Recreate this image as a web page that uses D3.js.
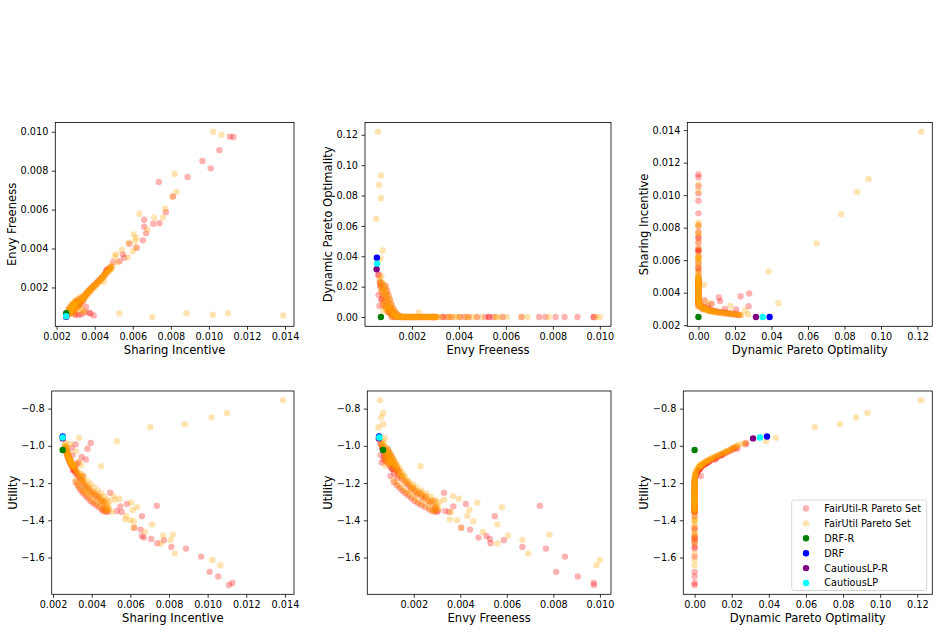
<!DOCTYPE html>
<html>
<head>
<meta charset="utf-8">
<script src="https://cdn.jsdelivr.net/npm/d3@7"></script>
<style>
    body { margin: 0; background: #fff; }
    svg { display: block; font-family: 'DejaVu Sans', sans-serif; }
</style>
</head>
<body>
<svg id="chart" width="939" height="632"></svg>
<script>
// every row: [sharing incentive, envy freeness, dynamic pareto optimality, utility]
const fairUtilR = [
    [0.00262, 0.00064, 0.0225, -1.008], [0.00266, 0.00074, 0.0215, -1.014], [0.00264, 0.00088, 0.0205, -1.019],
    [0.00270, 0.00068, 0.0195, -1.024], [0.00268, 0.00080, 0.0185, -1.029], [0.00274, 0.00094, 0.0175, -1.034],
    [0.00270, 0.00072, 0.0165, -1.039], [0.00276, 0.00086, 0.0155, -1.044], [0.00273, 0.00100, 0.0145, -1.049],
    [0.00280, 0.00078, 0.0135, -1.054], [0.00277, 0.00092, 0.0125, -1.059], [0.00283, 0.00106, 0.0115, -1.064],
    [0.00280, 0.00084, 0.0105, -1.069], [0.00287, 0.00098, 0.0095, -1.074], [0.00284, 0.00112, 0.0085, -1.079],
    [0.00291, 0.00090, 0.0075, -1.085], [0.00288, 0.00106, 0.0066, -1.091], [0.00296, 0.00120, 0.0057, -1.097],
    [0.00293, 0.00098, 0.0049, -1.103], [0.00301, 0.00114, 0.0041, -1.110], [0.00306, 0.00128, 0.0034, -1.117],
    [0.00304, 0.00106, 0.0027, -1.124], [0.00312, 0.00122, 0.0021, -1.131], [0.00318, 0.00138, 0.0016, -1.139],
    [0.00316, 0.00116, 0.0012, -1.147], [0.00326, 0.00132, 0.0008, -1.155], [0.00332, 0.00148, 0.0005, -1.163],
    [0.00338, 0.00128, 0.0003, -1.172], [0.00346, 0.00150, 0.0001, -1.181], [0.00352, 0.00165, 0, -1.192],
    [0.00360, 0.00172, 0, -1.205], [0.00366, 0.00180, 0, -1.215], [0.00374, 0.00188, 0, -1.232],
    [0.00384, 0.00198, 0, -1.228], [0.00392, 0.00206, 0, -1.245], [0.00400, 0.00214, 0, -1.260],
    [0.00412, 0.00225, 0, -1.252], [0.00420, 0.00234, 0, -1.268], [0.00430, 0.00242, 0, -1.282],
    [0.00438, 0.00250, 0, -1.272], [0.00448, 0.00262, 0, -1.295], [0.00456, 0.00272, 0, -1.305],
    [0.00466, 0.00285, 0, -1.298], [0.00474, 0.00294, 0, -1.330], [0.00484, 0.00304, 0, -1.350],
    [0.00470, 0.00292, 0, -1.345], [0.00462, 0.00290, 0, -1.335], [0.00478, 0.00298, 0, -1.355],
    [0.00318, 0.00115, 0, -1.195], [0.00328, 0.00128, 0, -1.212], [0.00336, 0.00140, 0, -1.228],
    [0.00346, 0.00152, 0, -1.242], [0.00356, 0.00164, 0, -1.255], [0.00368, 0.00176, 0, -1.268],
    [0.00380, 0.00190, 0, -1.282], [0.00394, 0.00203, 0, -1.296], [0.00408, 0.00218, 0, -1.308],
    [0.00422, 0.00232, 0, -1.318], [0.00436, 0.00248, 0, -1.330], [0.00452, 0.00266, 0, -1.342],
    [0.00460, 0.00282, 0, -1.352], [0.00288, 0.00078, 0.0080, -1.082], [0.00296, 0.00088, 0.0062, -1.094],
    [0.00308, 0.00100, 0.0036, -1.114], [0.00314, 0.00110, 0.0025, -1.126], [0.00302, 0.00130, 0.0020, -1.133],
    [0.00395, 0.00056, 0.0278, -0.985], [0.00378, 0.00066, 0.0231, -1.016], [0.00370, 0.00070, 0.0112, -1.073],
    [0.00348, 0.00072, 0.0119, -1.060], [0.00317, 0.00060, 0.0275, -0.992], [0.00331, 0.00062, 0.0073, -1.090],
    [0.00354, 0.00100, 0.0033, -1.162], [0.00296, 0.00065, 0.0207, -1.012], [0.00300, 0.00058, 0.0145, -1.050],
    [0.00322, 0.00110, 0.0052, -1.100],
    [0.01110, 0.00975, 0, -1.748], [0.01128, 0.00973, 0, -1.737], [0.01055, 0.00905, 0, -1.702],
    [0.01010, 0.00812, 0, -1.677], [0.00966, 0.00850, 0, -1.595], [0.00888, 0.00768, 0, -1.552],
    [0.00737, 0.00742, 0, -1.322], [0.00812, 0.00667, 0, -1.543], [0.00774, 0.00587, 0, -1.507],
    [0.00660, 0.00548, 0, -1.378], [0.00708, 0.00527, 0, -1.500], [0.00740, 0.00530, 0, -1.523],
    [0.00670, 0.00478, 0, -1.493], [0.00660, 0.00512, 0, -1.484], [0.00653, 0.00442, 0, -1.450],
    [0.00582, 0.00424, 0, -1.312], [0.00548, 0.00370, 0, -1.325], [0.00555, 0.00352, 0, -1.355],
    [0.00530, 0.00335, 0, -1.350], [0.00620, 0.00404, 0, -1.440], [0.00496, 0.00330, 0, -1.252]
];

const fairUtil = [
    [0.00262, 0.00062, 0.0235, -0.995], [0.00265, 0.00070, 0.0228, -1.000], [0.00262, 0.00078, 0.0220, -1.005],
    [0.00268, 0.00066, 0.0212, -1.010], [0.00264, 0.00085, 0.0205, -1.013], [0.00270, 0.00072, 0.0196, -1.018],
    [0.00266, 0.00090, 0.0188, -1.022], [0.00272, 0.00068, 0.0180, -1.026], [0.00268, 0.00080, 0.0172, -1.030],
    [0.00274, 0.00095, 0.0165, -1.033], [0.00270, 0.00074, 0.0158, -1.036], [0.00276, 0.00088, 0.0150, -1.040],
    [0.00272, 0.00100, 0.0142, -1.043], [0.00278, 0.00078, 0.0135, -1.047], [0.00274, 0.00092, 0.0127, -1.050],
    [0.00280, 0.00105, 0.0120, -1.054], [0.00276, 0.00082, 0.0112, -1.057], [0.00282, 0.00098, 0.0105, -1.061],
    [0.00278, 0.00110, 0.0098, -1.064], [0.00285, 0.00088, 0.0090, -1.068], [0.00281, 0.00104, 0.0083, -1.072],
    [0.00288, 0.00115, 0.0076, -1.076], [0.00284, 0.00094, 0.0069, -1.080], [0.00292, 0.00110, 0.0062, -1.084],
    [0.00288, 0.00122, 0.0055, -1.088], [0.00296, 0.00100, 0.0048, -1.093], [0.00300, 0.00118, 0.0041, -1.098],
    [0.00298, 0.00130, 0.0035, -1.103], [0.00305, 0.00108, 0.0029, -1.108], [0.00310, 0.00125, 0.0023, -1.114],
    [0.00308, 0.00140, 0.0018, -1.120], [0.00316, 0.00118, 0.0014, -1.126], [0.00322, 0.00135, 0.0010, -1.133],
    [0.00320, 0.00150, 0.0007, -1.140], [0.00330, 0.00128, 0.0005, -1.146], [0.00336, 0.00145, 0.0003, -1.154],
    [0.00342, 0.00160, 0.0002, -1.162], [0.00340, 0.00140, 0.0001, -1.170], [0.00350, 0.00155, 0, -1.175],
    [0.00355, 0.00168, 0, -1.185], [0.00348, 0.00158, 0, -1.200], [0.00362, 0.00175, 0, -1.195],
    [0.00368, 0.00182, 0, -1.210], [0.00375, 0.00190, 0, -1.225], [0.00370, 0.00186, 0, -1.240],
    [0.00382, 0.00196, 0, -1.220], [0.00390, 0.00204, 0, -1.235], [0.00395, 0.00210, 0, -1.255],
    [0.00402, 0.00216, 0, -1.245], [0.00410, 0.00222, 0, -1.262], [0.00418, 0.00230, 0, -1.255],
    [0.00425, 0.00238, 0, -1.275], [0.00432, 0.00245, 0, -1.268], [0.00440, 0.00252, 0, -1.290],
    [0.00446, 0.00260, 0, -1.280], [0.00452, 0.00268, 0, -1.300], [0.00458, 0.00275, 0, -1.292],
    [0.00464, 0.00282, 0, -1.315], [0.00470, 0.00290, 0, -1.305], [0.00476, 0.00296, 0, -1.325],
    [0.00482, 0.00302, 0, -1.318], [0.00486, 0.00308, 0, -1.340], [0.00490, 0.00298, 0, -1.335],
    [0.00480, 0.00286, 0, -1.345],
    [0.00315, 0.00112, 0, -1.185], [0.00325, 0.00125, 0, -1.200], [0.00332, 0.00135, 0, -1.215],
    [0.00340, 0.00148, 0, -1.228], [0.00352, 0.00160, 0, -1.240], [0.00360, 0.00170, 0, -1.250],
    [0.00372, 0.00182, 0, -1.262], [0.00385, 0.00195, 0, -1.275], [0.00398, 0.00208, 0, -1.290],
    [0.00410, 0.00220, 0, -1.300], [0.00425, 0.00235, 0, -1.310], [0.00438, 0.00250, 0, -1.320],
    [0.00450, 0.00264, 0, -1.332], [0.00462, 0.00276, 0, -1.345], [0.00472, 0.00288, 0, -1.352],
    [0.00345, 0.00142, 0.0006, -1.150], [0.00360, 0.00158, 0.0003, -1.165], [0.00378, 0.00176, 0.0001, -1.190],
    [0.00395, 0.00195, 0, -1.205], [0.00412, 0.00212, 0, -1.222], [0.00430, 0.00232, 0, -1.240],
    [0.00448, 0.00252, 0, -1.255], [0.00465, 0.00272, 0, -1.272], [0.00480, 0.00292, 0, -1.290],
    [0.00492, 0.00310, 0, -1.300],
    [0.00285, 0.00075, 0.0088, -1.070], [0.00292, 0.00082, 0.0070, -1.078], [0.00298, 0.00090, 0.0052, -1.090],
    [0.00305, 0.00096, 0.0040, -1.098], [0.00312, 0.00104, 0.0030, -1.106], [0.00300, 0.00125, 0.0024, -1.112],
    [0.00294, 0.00118, 0.0032, -1.104], [0.00286, 0.00108, 0.0058, -1.086],
    [0.00290, 0.00064, 0.0255, -0.990], [0.00266, 0.00070, 0.0272, -0.985], [0.00335, 0.00095, 0.0068, -1.085],
    [0.00318, 0.00082, 0.0175, -1.030], [0.00345, 0.00078, 0.0040, -1.105], [0.00449, 0.00229, 0.0030, -1.110],
    [0.01390, 0.00056, 0.1220, -0.755], [0.01100, 0.00068, 0.0932, -0.823], [0.01020, 0.00060, 0.0870, -0.847],
    [0.00882, 0.00068, 0.0782, -0.884], [0.00703, 0.00048, 0.0648, -0.900], [0.00530, 0.00066, 0.0385, -0.975],
    [0.00335, 0.00076, 0.0438, -0.957],
    [0.01024, 0.01000, 0, -1.613], [0.01066, 0.00985, 0, -1.641], [0.00820, 0.00783, 0, -1.477],
    [0.00830, 0.00692, 0, -1.579], [0.00808, 0.00667, 0, -1.505], [0.00770, 0.00605, 0, -1.482],
    [0.00635, 0.00579, 0, -1.330], [0.00713, 0.00559, 0, -1.422], [0.00759, 0.00559, 0, -1.525],
    [0.00677, 0.00497, 0, -1.462], [0.00605, 0.00473, 0, -1.305], [0.00618, 0.00456, 0, -1.405],
    [0.00612, 0.00439, 0, -1.345], [0.00618, 0.00404, 0, -1.440], [0.00578, 0.00430, 0, -1.377],
    [0.00600, 0.00386, 0, -1.400], [0.00573, 0.00355, 0, -1.395], [0.00543, 0.00394, 0, -1.284],
    [0.00513, 0.00369, 0, -1.270], [0.00504, 0.00360, 0, -1.355], [0.00520, 0.00330, 0, -1.290]
];

const drfR = [[0.00250, 0.00068, 0.0000, -1.022]];
const drf = [[0.00250, 0.00051, 0.0390, -0.950]];
const cautiousLPR = [[0.00250, 0.00050, 0.0315, -0.960]];
const cautiousLP = [[0.00250, 0.00052, 0.0352, -0.955]];

const metricNames = ['Sharing Incentive', 'Envy Freeness', 'Dynamic Pareto Optimality', 'Utility'];
const siTicks = [0.002, 0.004, 0.006, 0.008, 0.010, 0.012, 0.014];
const efTicks = [0.002, 0.004, 0.006, 0.008, 0.010];
const dpoTicks = [0.00, 0.02, 0.04, 0.06, 0.08, 0.10, 0.12];
const utilTicks = [-1.6, -1.4, -1.2, -1.0, -0.8];

const series = [
    { data: fairUtilR, color: 'red', opacity: 0.3, label: 'FairUtil-R Pareto Set' },
    { data: fairUtil, color: 'orange', opacity: 0.3, label: 'FairUtil Pareto Set' },
    { data: drfR, color: 'green', opacity: 1, label: 'DRF-R' },
    { data: drf, color: 'blue', opacity: 1, label: 'DRF' },
    { data: cautiousLPR, color: 'purple', opacity: 1, label: 'CautiousLP-R' },
    { data: cautiousLP, color: 'cyan', opacity: 1, label: 'CautiousLP' }
];

const tickSets = [siTicks, efTicks, dpoTicks, utilTicks];
const tickFormats = [d3.format('.3f'), d3.format('.3f'), d3.format('.2f'), d3.format('.1f')];

// matplotlib-like 5% margins around the data
const allRows = series.flatMap(s => s.data);
const domains = [0, 1, 2, 3].map(k => {
    const [lo, hi] = d3.extent(allRows, r => r[k]);
    const pad = (hi - lo) * 0.05;
    return [lo - pad, hi + pad];
});

const panels = [
    { x: 0, y: 1, left: 55.3, top: 122.5, right: 294, bottom: 326.3 },
    { x: 1, y: 2, left: 365, top: 122.5, right: 611, bottom: 326.3 },
    { x: 2, y: 0, left: 687.3, top: 122.5, right: 932.3, bottom: 326.3 },
    { x: 0, y: 3, left: 51.7, top: 391, right: 294, bottom: 594.3 },
    { x: 1, y: 3, left: 367.3, top: 391, right: 611, bottom: 594.3 },
    { x: 2, y: 3, left: 683.3, top: 391, right: 932.3, bottom: 594.3 }
];

const svg = d3.select('#chart');
const R = 3.2;

panels.forEach((p, i) => {
    const w = p.right - p.left;
    const h = p.bottom - p.top;
    const g = svg.append('g').attr('transform', `translate(${p.left},${p.top})`);

    const x = d3.scaleLinear().domain(domains[p.x]).range([0, w]);
    const y = d3.scaleLinear().domain(domains[p.y]).range([h, 0]);

    series.forEach(s => {
        g.append('g')
            .selectAll('circle')
            .data(s.data)
            .enter().append('circle')
            .attr('cx', d => x(d[p.x]))
            .attr('cy', d => y(d[p.y]))
            .attr('r', R)
            .attr('fill', s.color)
            .attr('fill-opacity', s.opacity);
    });

    const xAxis = g.append('g')
        .attr('transform', `translate(0,${h})`)
        .call(d3.axisBottom(x).tickValues(tickSets[p.x]).tickFormat(tickFormats[p.x])
            .tickSizeInner(3.5).tickSizeOuter(0).tickPadding(3.5));
    const yAxis = g.append('g')
        .call(d3.axisLeft(y).tickValues(tickSets[p.y]).tickFormat(tickFormats[p.y])
            .tickSizeInner(3.5).tickSizeOuter(0).tickPadding(3.5));

    [xAxis, yAxis].forEach(ax => {
        ax.select('.domain').remove();
        ax.selectAll('line').attr('stroke', '#000').attr('stroke-width', 0.8);
        ax.selectAll('text').attr('font-size', '9.7px').attr('fill', '#000')
            .attr('font-family', "'DejaVu Sans', sans-serif");
    });

    g.append('rect')
        .attr('width', w).attr('height', h)
        .attr('fill', 'none').attr('stroke', '#000').attr('stroke-width', 0.8);

    g.append('text')
        .attr('x', w / 2)
        .attr('y', h + 27.4)
        .attr('text-anchor', 'middle')
        .attr('font-size', '11.6px')
        .text(metricNames[p.x]);

    const yw = yAxis.node().getBBox().width;
    g.append('text')
        .attr('transform', `translate(${-yw - 4.5},${h / 2}) rotate(-90)`)
        .attr('text-anchor', 'middle')
        .attr('font-size', '11.6px')
        .text(metricNames[p.y]);

    if (i === 5) addLegend(g, w, h);
});

function addLegend(g, w, h) {
    const lg = g.append('g').attr('transform', `translate(${w - 140.6},${h - 94.3})`);
    lg.append('rect')
        .attr('width', 135).attr('height', 90.5)
        .attr('rx', 2.5)
        .attr('fill', '#fff').attr('fill-opacity', 0.8)
        .attr('stroke', '#cccccc').attr('stroke-width', 0.8);

    const entry = lg.selectAll('.legend-item')
        .data(series)
        .enter().append('g')
        .attr('class', 'legend-item')
        .attr('transform', (d, i) => `translate(0,${8.5 + i * 14.9})`);

    entry.append('circle')
        .attr('cx', 14.3)
        .attr('r', R)
        .attr('fill', d => d.color)
        .attr('fill-opacity', d => d.opacity);

    entry.append('text')
        .attr('x', 32.6)
        .attr('dy', '0.35em')
        .attr('font-size', '9.7px')
        .attr('fill', '#000')
        .text(d => d.label);
}
</script>
</body>
</html>
